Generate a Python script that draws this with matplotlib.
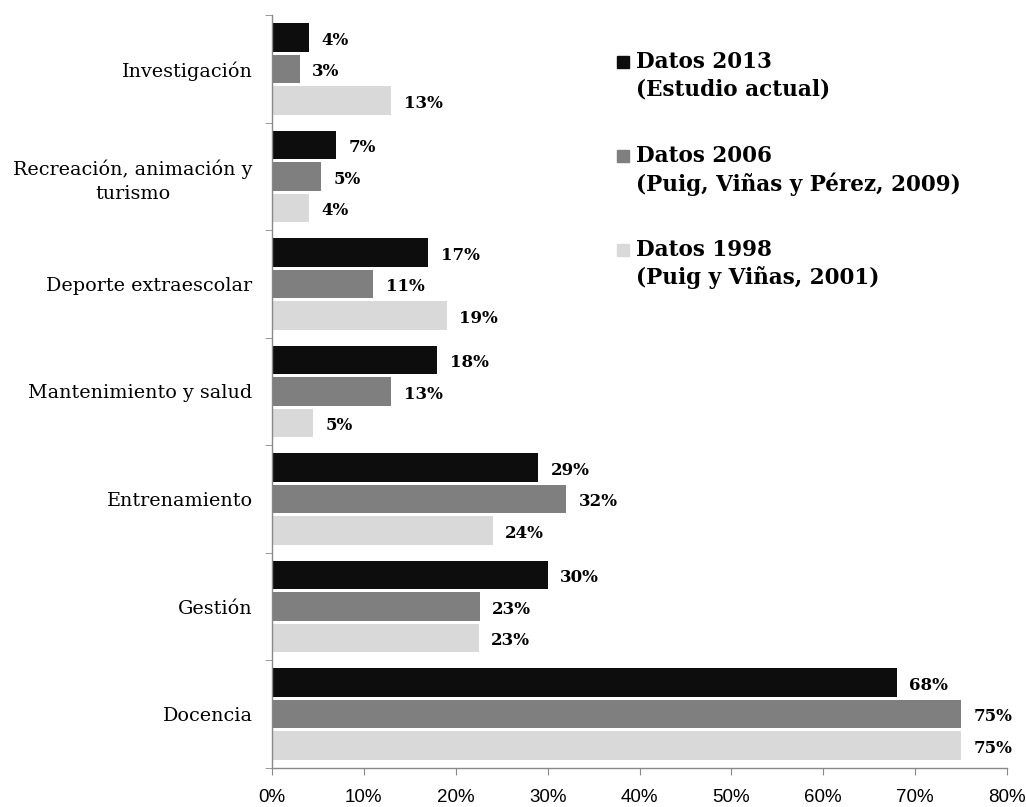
import matplotlib
matplotlib.use("Agg")
import matplotlib.pyplot as plt
import numpy as np
from matplotlib.patches import Rectangle

categories = ["Investigación", "Recreación, animación y\nturismo", "Deporte extraescolar",
              "Mantenimiento y salud", "Entrenamiento", "Gestión", "Docencia"]
datos_2013 = [4, 7, 17, 18, 29, 30, 68]
datos_2006 = [3, 5.3, 11, 13, 32, 22.6, 75]
datos_1998 = [13, 4, 19, 4.5, 24, 22.5, 75]
series_names = ["Datos 2013\n(Estudio actual)",
                "Datos 2006\n(Puig, Viñas y Pérez, 2009)",
                "Datos 1998\n(Puig y Viñas, 2001)"]
colors = ["#0d0d0d", "#7f7f7f", "#d9d9d9"]
xticks = [0, 10, 20, 30, 40, 50, 60, 70, 80]

serif = ["DejaVu Serif"]
fig = plt.figure(figsize=(10.26, 8.07), dpi=100)
ax = fig.add_axes((272 / 1026, 39 / 807, 735 / 1026, 753 / 807))

n = len(categories)
y = np.arange(n)[::-1]  # first category on top
offsets = [0.293, 0.0, -0.293]
for vals, off, c in zip([datos_2013, datos_2006, datos_1998], offsets, colors):
    bars = ax.barh(y + off, vals, height=0.265, color=c, edgecolor="none")
    anns = ax.bar_label(bars, labels=[f"{int(v + 0.5)}%" for v in vals], padding=9,
                        fontsize=12, fontweight="bold", family=serif, color="black")
    for a in anns:
        a.xyann = (9, -2)  # labels sit a touch below bar centre

ax.set_xlim(0, 80)
ax.set_ylim(-0.5, n - 0.5)
ax.set_xticks(xticks)
ax.set_xticklabels([f"{t}%" for t in xticks], family=["Liberation Sans", "DejaVu Sans"],
                   fontsize=13.5)
ax.set_yticks(y)
ax.set_yticklabels(categories, family=serif, fontsize=13.8)
for lbl in ax.get_yticklabels():
    lbl.set_multialignment("center")
    lbl.set_linespacing(1.4)
ax.set_yticks(np.arange(-0.5, n, 1.0), minor=True)
ax.tick_params(axis="y", which="major", length=0, pad=14)
ax.tick_params(axis="y", which="minor", length=5, color="#888888", direction="out")
ax.tick_params(axis="x", which="major", length=5, color="#888888", pad=10)

for s in ["top", "right"]:
    ax.spines[s].set_visible(False)
for s in ["left", "bottom"]:
    ax.spines[s].set_color("#888888")
    ax.spines[s].set_linewidth(1)

# legend drawn by hand so the square sits on the first line
leg_y = [62, 156, 250]
for name, c, yy in zip(series_names, colors, leg_y):
    fig.patches.append(Rectangle((617 / 1026, (807 - yy - 6) / 807), 12 / 1026, 12 / 807,
                                 transform=fig.transFigure, color=c))
    fig.text(636 / 1026, (807 - yy + 11) / 807, name, family=serif, fontsize=15.5,
             fontweight="bold", va="top", ha="left", linespacing=1.3)

fig.savefig("out.png", dpi=100)
